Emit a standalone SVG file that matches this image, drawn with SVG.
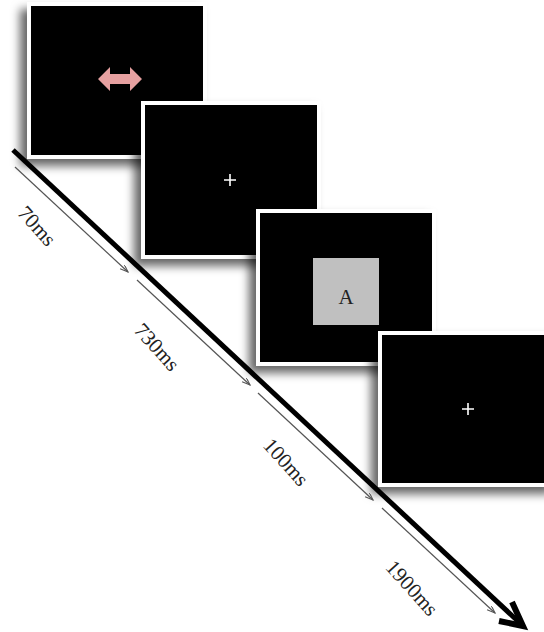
<svg xmlns="http://www.w3.org/2000/svg" width="544" height="632" viewBox="0 0 544 632">
  <style>
    .frame { fill: #ffffff; filter: url(#shadow); }
    .screen { fill: #000000; }
    .fix { stroke: #ffffff; stroke-width: 1.6; fill: none; }
    .tick { stroke: #555555; stroke-width: 1.2; fill: none; marker-end: url(#small); }
    .dur { font-family: "Liberation Serif", "Times New Roman", serif; font-size: 21px; fill: #222222; text-anchor: middle; dominant-baseline: central; }
  </style>
  <defs>
    <filter id="shadow" x="-20%" y="-20%" width="140%" height="140%">
      <feDropShadow dx="-7" dy="7" stdDeviation="5" flood-color="#000000" flood-opacity="0.6"/>
    </filter>
    <marker id="small" markerWidth="10" markerHeight="8" refX="8" refY="3" orient="auto" markerUnits="userSpaceOnUse">
      <path d="M0,0 L8,3 L0,6" fill="none" stroke="#555555" stroke-width="1.1"/>
    </marker>
  </defs>
  <rect width="544" height="632" fill="#ffffff"/>

  <!-- cue screen -->
  <g id="screen-cue">
    <rect class="frame" x="27" y="2" width="180" height="157"/>
    <rect class="screen" x="31" y="6" width="172" height="149"/>
    <polygon points="98,79 110,67 110,74 130,74 130,67 142,79 130,91 130,84 110,84 110,91" fill="#e6a0a0"/>
  </g>

  <!-- first fixation screen -->
  <g id="screen-fixation-1">
    <rect class="frame" x="141" y="101" width="180" height="158"/>
    <rect class="screen" x="145" y="105" width="172" height="150"/>
    <path class="fix" d="M224,180 H236 M230,174 V186"/>
  </g>

  <!-- target screen -->
  <g id="screen-target">
    <rect class="frame" x="256" y="209" width="180" height="157"/>
    <rect class="screen" x="260" y="213" width="172" height="149"/>
    <rect x="313" y="258" width="66" height="67" fill="#c0c0c0"/>
    <text x="346" y="297" font-family="Liberation Serif, serif" font-size="21" fill="#222222" text-anchor="middle" dominant-baseline="central">A</text>
  </g>

  <!-- second fixation screen -->
  <g id="screen-fixation-2">
    <rect class="frame" x="378" y="331" width="180" height="156"/>
    <rect class="screen" x="382" y="335" width="172" height="148"/>
    <path class="fix" d="M462,409 H474 M468,403 V415"/>
  </g>

  <!-- time axis and interval arrows -->
  <g id="connectors">
    <path d="M13,150 L521,624" stroke="#000000" stroke-width="5" fill="none"/>
    <path d="M512,602 L523,626 L499,621" stroke="#000000" stroke-width="6" fill="none" stroke-linejoin="miter" stroke-miterlimit="10"/>
    <path class="tick" d="M15,167 L128,272"/>
    <path class="tick" d="M137,280 L250,385"/>
    <path class="tick" d="M258,393 L373,500"/>
    <path class="tick" d="M382,508 L495,613"/>
  </g>

  <g id="labels">
    <text class="dur" transform="translate(37,226) rotate(48)">70ms</text>
    <text class="dur" transform="translate(157,347) rotate(48)">730ms</text>
    <text class="dur" transform="translate(286,462) rotate(48)">100ms</text>
    <text class="dur" transform="translate(412,588) rotate(48)">1900ms</text>
  </g>
</svg>
